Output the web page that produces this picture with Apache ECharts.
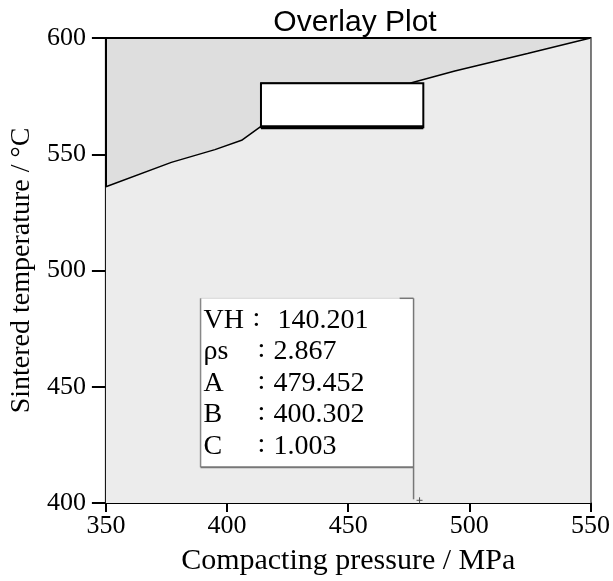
<!DOCTYPE html>
<html>
<head>
<meta charset="utf-8">
<script src="https://cdn.jsdelivr.net/npm/echarts@6/dist/echarts.min.js"></script>
<style>html,body{margin:0;padding:0;background:#fff}#c{width:613px;height:581px}</style>
</head>
<body>
<div id="c"></div>
<script>
// ---- data ----
var xTicks = [350, 400, 450, 500, 550];
var yTicks = [400, 450, 500, 550, 600];
// contour boundary (lower-left part, then along the design-space top, then upper-right part)
var boundaryX = [350, 377, 395, 406, 414, 414, 475.4, 494, 524, 550];
var boundaryY = [536, 546.5, 552, 556, 562, 580.5, 580.5, 585.8, 593.3, 600];
// white design space rectangle [x0, y0, x1, y1]
var spaceRect = [414, 561.6, 481, 580.5];
// flag annotation
var flagLabels = ['VH', '\u03C1s', 'A', 'B', 'C'];
var flagValues = ['140.201', '2.867', '479.452', '400.302', '1.003'];
var flagPoint = [479.452, 400.302];

var serif = "'Liberation Serif', 'DejaVu Serif', serif";
var chart = echarts.init(document.getElementById('c'));

var boundaryData = boundaryX.map(function (x, i) { return [x, boundaryY[i]]; });

chart.setOption({
  animation: false,
  title: {
    text: 'Overlay Plot', left: 350, top: 3, textAlign: 'center',
    textStyle: { fontFamily: "'Liberation Sans', Arial, sans-serif", fontSize: 30, fontWeight: 'normal', color: '#000' }
  },
  grid: { left: 102, right: 15, top: 38, bottom: 77, show: true, backgroundColor: '#dedede', borderColor: '#000', borderWidth: 2 },
  xAxis: {
    type: 'value', min: 350, max: 550, interval: 50,
    name: 'Compacting pressure / MPa', nameLocation: 'middle', nameGap: 43,
    nameTextStyle: { fontFamily: serif, fontSize: 30, color: '#000' },
    axisLine: { lineStyle: { color: '#000', width: 2 } },
    axisTick: { length: 9, lineStyle: { color: '#000', width: 2 } },
    axisLabel: { fontFamily: serif, fontSize: 26, color: '#000', margin: 10 },
    splitLine: { show: false }
  },
  yAxis: {
    type: 'value', min: 400, max: 600, interval: 50,
    name: 'Sintered temperature / \u00B0C', nameLocation: 'middle', nameGap: 59,
    nameTextStyle: { fontFamily: serif, fontSize: 28, color: '#000' },
    axisLine: { lineStyle: { color: '#000', width: 2 } },
    axisTick: { length: 14, lineStyle: { color: '#000', width: 2 } },
    axisLabel: { fontFamily: serif, fontSize: 26, color: '#000', margin: 20 },
    splitLine: { show: false }
  },
  series: [
    {
      type: 'line', data: boundaryData, symbol: 'none', z: 2,
      lineStyle: { color: '#000', width: 1.5 },
      areaStyle: { color: '#ececec', opacity: 1, origin: 'start' }
    },
    {
      type: 'custom', z: 3, data: [spaceRect],
      renderItem: function (params, api) {
        var p0 = api.coord([api.value(0), api.value(3)]);
        var p1 = api.coord([api.value(2), api.value(1)]);
        return {
          type: 'group', children: [
            { type: 'rect', shape: { x: p0[0], y: p0[1], width: p1[0] - p0[0], height: p1[1] - p0[1] },
              style: { fill: '#fff', stroke: '#000', lineWidth: 2 } },
            { type: 'line', shape: { x1: p0[0], y1: p1[1], x2: p1[0], y2: p1[1] },
              style: { stroke: '#000', lineWidth: 4 } }
          ]
        };
      }
    },
    {
      type: 'custom', z: 4, data: [flagPoint],
      renderItem: function (params, api) {
        var p = api.coord([api.value(0), api.value(1)]);
        var bx0 = p[0] - 219, bx1 = p[0] - 6, by0 = p[1] - 204, by1 = p[1] - 35;
        var children = [
          { type: 'rect', shape: { x: bx0, y: by0, width: bx1 - bx0, height: by1 - by0 }, style: { fill: '#fff' } },
          { type: 'line', shape: { x1: bx0, y1: by0, x2: bx1 - 14, y2: by0 }, style: { stroke: '#d8d8d8', lineWidth: 1 } },
          { type: 'line', shape: { x1: bx1 - 14, y1: by0, x2: bx1, y2: by0 }, style: { stroke: '#777', lineWidth: 1.5 } },
          { type: 'line', shape: { x1: bx0, y1: by0, x2: bx0, y2: by1 }, style: { stroke: '#888', lineWidth: 1.5 } },
          { type: 'line', shape: { x1: bx0, y1: by1, x2: bx1, y2: by1 }, style: { stroke: '#777', lineWidth: 2 } },
          { type: 'line', shape: { x1: bx1, y1: by0, x2: bx1, y2: p[1] - 3 }, style: { stroke: '#777', lineWidth: 1.5 } },
          { type: 'line', shape: { x1: p[0] - 3, y1: p[1] - 2, x2: p[0] + 3, y2: p[1] - 2 }, style: { stroke: '#555', lineWidth: 1 } },
          { type: 'line', shape: { x1: p[0], y1: p[1] - 5, x2: p[0], y2: p[1] + 1 }, style: { stroke: '#555', lineWidth: 1 } }
        ];
        for (var i = 0; i < flagLabels.length; i++) {
          var cy = by0 + 22 + i * 31.5;
          children.push({ type: 'text', style: { x: bx0 + 3, y: cy, text: flagLabels[i], fill: '#000', font: '28px ' + serif, textVerticalAlign: 'middle' } });
          children.push({ type: 'text', style: { x: i === 0 ? bx0 + 52 : bx0 + 57, y: cy - 2, text: ':', fill: '#000', font: '28px ' + serif, textVerticalAlign: 'middle' } });
          children.push({ type: 'text', style: { x: i === 0 ? bx0 + 77 : bx0 + 73, y: cy, text: flagValues[i], fill: '#000', font: '28px ' + serif, textVerticalAlign: 'middle' } });
        }
        return { type: 'group', children: children };
      }
    }
  ]
});
</script>
</body>
</html>
